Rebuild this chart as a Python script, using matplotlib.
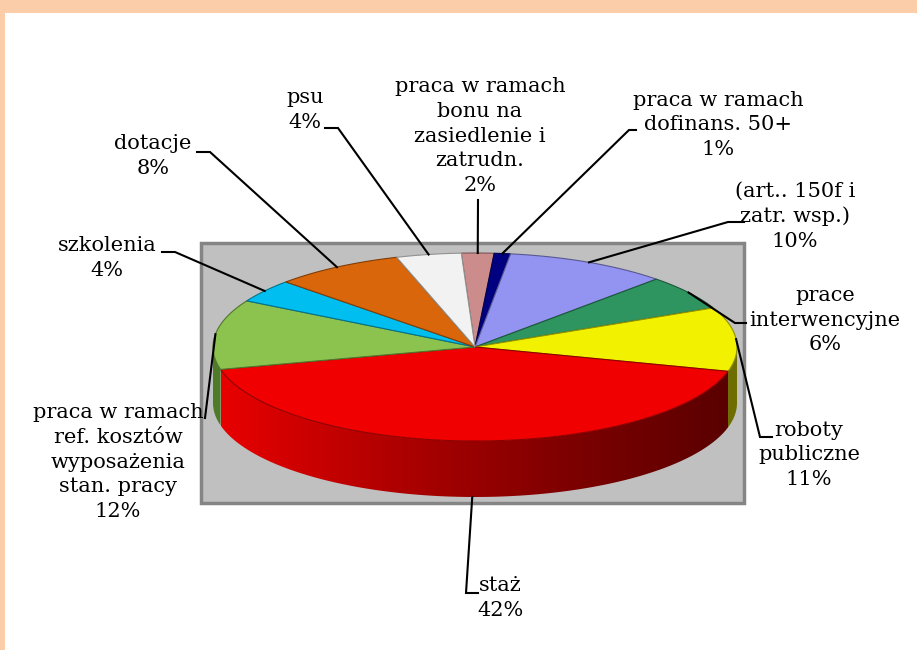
import numpy as np
import matplotlib.pyplot as plt
from matplotlib.patches import Polygon, Rectangle
from matplotlib.colors import LinearSegmentedColormap, to_rgb

# slices in clockwise order, starting near 12 o'clock
labels = [
    "praca w ramach\nbonu na\nzasiedlenie i\nzatrudn.",
    "praca w ramach\ndofinans. 50+",
    "(art.. 150f i\nzatr. wsp.)",
    "prace\ninterwencyjne",
    "roboty\npubliczne",
    "staż",
    "praca w ramach\nref. kosztów\nwyposażenia\nstan. pracy",
    "szkolenia",
    "dotacje",
    "psu",
]
shares = [2, 1, 10, 6, 11, 42, 12, 4, 8, 4]
colors = ["#CC8C8C", "#000080", "#9393F2", "#2E9460", "#F2F200",
          "#F00000", "#8BC34E", "#00BFF0", "#D9660A", "#F2F2F2"]
side_colors = ["#8C5A5A", "#000050", "#5F5FA8", "#1C5E3C", "#6E6E00",
               "#A00000", "#4F7A28", "#0078A0", "#8C4006", "#A8A8A8"]

# label layout (text centre) and leader elbows, in pixels
label_xy = [(480, 136), (718, 125), (795, 216), (825, 320), (809, 455),
            (500, 598), (118, 462), (107, 258), (153, 156), (305, 110)]
leader_pts = [
    [(478, 200)],
    [(629, 130), (636, 130)],
    [(728, 222), (744, 222)],
    [(735, 323), (746, 323)],
    [(760, 437), (772, 437)],
    [(466, 593), (478, 593)],
    [(205, 418)],
    [(175, 252), (162, 252)],
    [(210, 152), (197, 152)],
    [(338, 128), (325, 128)],
]

W, H = 917, 650
cx, cy = 475, 347      # pie centre
ra, rb = 262, 94       # ellipse radii
depth = 56             # thickness of the pie
start = 93.0


def rim(t, dy=0):
    t = np.radians(t)
    return np.column_stack([cx + ra * np.cos(t), cy - rb * np.sin(t) + dy])


def draw_chart():
    fig = plt.figure(figsize=(W / 100, H / 100), dpi=100)
    ax = fig.add_axes([0, 0, 1, 1])
    ax.axis("off")

    # peach frame
    ax.add_patch(Rectangle((0, 0), W, 13, color="#FBCDA8", lw=0, zorder=0))
    ax.add_patch(Rectangle((0, 0), 5, H, color="#FBCDA8", lw=0, zorder=0))

    # grey plot area
    ax.add_patch(Rectangle((201, 243), 543, 260, facecolor="#C0C0C0",
                           edgecolor="#858585", lw=2.5, zorder=1))

    angles = start - np.cumsum([0] + shares) * 3.6

    # side walls (front half only)
    for i in range(len(shares)):
        hi = min(angles[i], 0)
        lo = max(angles[i + 1], -180)
        if lo >= hi:
            continue
        t = np.linspace(hi, lo, 80)
        pts = np.vstack([rim(t), rim(t[::-1], depth)])
        if labels[i] == "staż":
            poly = Polygon(pts, closed=True, facecolor="none", lw=0, zorder=2)
            ax.add_patch(poly)
            cmap = LinearSegmentedColormap.from_list(
                "redside", ["#E80000", "#B00000", "#800000", "#5A0000"])
            grad = np.linspace(0, 1, 256).reshape(1, -1)
            im = ax.imshow(grad, cmap=cmap, aspect="auto", zorder=2,
                           extent=(pts[:, 0].min(), pts[:, 0].max(),
                                   pts[:, 1].max(), pts[:, 1].min()))
            im.set_clip_path(poly)
        else:
            ax.add_patch(Polygon(pts, closed=True, facecolor=side_colors[i],
                                 edgecolor="none", zorder=2))

    # top faces
    for i in range(len(shares)):
        t = np.linspace(angles[i], angles[i + 1], 80)
        pts = np.vstack([[cx, cy], rim(t)])
        edge = np.array(to_rgb(colors[i])) * 0.6
        ax.add_patch(Polygon(pts, closed=True, facecolor=colors[i],
                             edgecolor=edge, lw=0.8, zorder=3))

    # labels with leader lines
    for i in range(len(shares)):
        mid = (angles[i] + angles[i + 1]) / 2
        p0 = rim(mid)[0]
        if labels[i] == "staż":
            p0 = rim(mid, depth)[0]
        path = np.vstack([p0] + leader_pts[i])
        ax.plot(path[:, 0], path[:, 1], color="black", lw=1.5, zorder=4,
                solid_joinstyle="miter")
        x, y = label_xy[i]
        ax.text(x, y, f"{labels[i]}\n{shares[i]}%", ha="center", va="center",
                multialignment="center", fontsize=15, family="DejaVu Serif",
                linespacing=1.38, color="black", zorder=5)

    ax.set_xlim(0, W)
    ax.set_ylim(H, 0)
    fig.savefig("out.png", dpi=100)


if __name__ == "__main__":
    draw_chart()
